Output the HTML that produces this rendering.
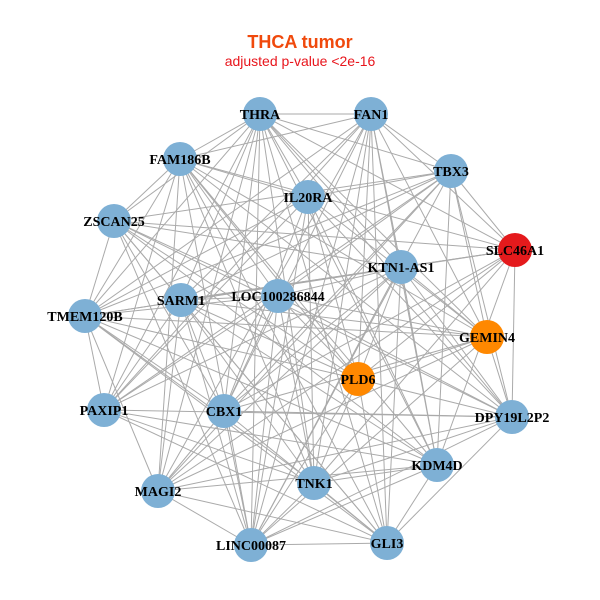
<!DOCTYPE html>
<html><head><meta charset="utf-8"><style>
html,body{margin:0;padding:0;background:#fff;}
svg{display:block;}
.t{font-family:"Liberation Serif",serif;font-weight:bold;font-size:14px;fill:#000;text-anchor:middle;}
</style></head><body>
<svg id="s" width="600" height="600" xmlns="http://www.w3.org/2000/svg">
<text x="300" y="48" text-anchor="middle" font-family="Liberation Sans,sans-serif" font-weight="bold" font-size="18" fill="#f0490c">THCA tumor</text>
<text x="300" y="66" text-anchor="middle" font-family="Liberation Sans,sans-serif" font-size="14" fill="#e8151c">adjusted p-value &lt;2e-16</text>
<g id="e" stroke="#aaaaaa" stroke-width="1"></g>
<g id="n"></g>
</svg>
<script>
var N=[["THRA",260,114,"#7eb0d5"],["FAN1",371,114,"#7eb0d5"],["FAM186B",180,159,"#7eb0d5"],["TBX3",451,171,"#7eb0d5"],["IL20RA",308,197,"#7eb0d5"],["ZSCAN25",114,221,"#7eb0d5"],["SLC46A1",515,250,"#e41a1c"],["KTN1-AS1",401,267,"#7eb0d5"],["LOC100286844",278,296,"#7eb0d5"],["SARM1",181,300,"#7eb0d5"],["TMEM120B",85,316,"#7eb0d5"],["GEMIN4",487,337,"#ff8800"],["PLD6",358,379,"#ff8800"],["PAXIP1",104,410,"#7eb0d5"],["CBX1",224,411,"#7eb0d5"],["DPY19L2P2",512,417,"#7eb0d5"],["KDM4D",437,465,"#7eb0d5"],["TNK1",314,483,"#7eb0d5"],["MAGI2",158,491,"#7eb0d5"],["LINC00087",251,545,"#7eb0d5"],["GLI3",387,543,"#7eb0d5"]];
var ns="http://www.w3.org/2000/svg",e=document.getElementById("e"),g=document.getElementById("n");
var seed=7;function r(){seed=(seed*9301+49297)%233280;return seed/233280;}
for(var i=0;i<N.length;i++)for(var j=i+1;j<N.length;j++){if(r()<0.7){var l=document.createElementNS(ns,"line");l.setAttribute("x1",N[i][1]);l.setAttribute("y1",N[i][2]);l.setAttribute("x2",N[j][1]);l.setAttribute("y2",N[j][2]);e.appendChild(l);}}
N.forEach(function(d){var c=document.createElementNS(ns,"circle");c.setAttribute("cx",d[1]);c.setAttribute("cy",d[2]);c.setAttribute("r",17);c.setAttribute("fill",d[3]);g.appendChild(c);});
N.forEach(function(d){var t=document.createElementNS(ns,"text");t.setAttribute("x",d[1]);t.setAttribute("y",d[2]+5);t.setAttribute("class","t");t.textContent=d[0];g.appendChild(t);});
</script>
</body></html>
